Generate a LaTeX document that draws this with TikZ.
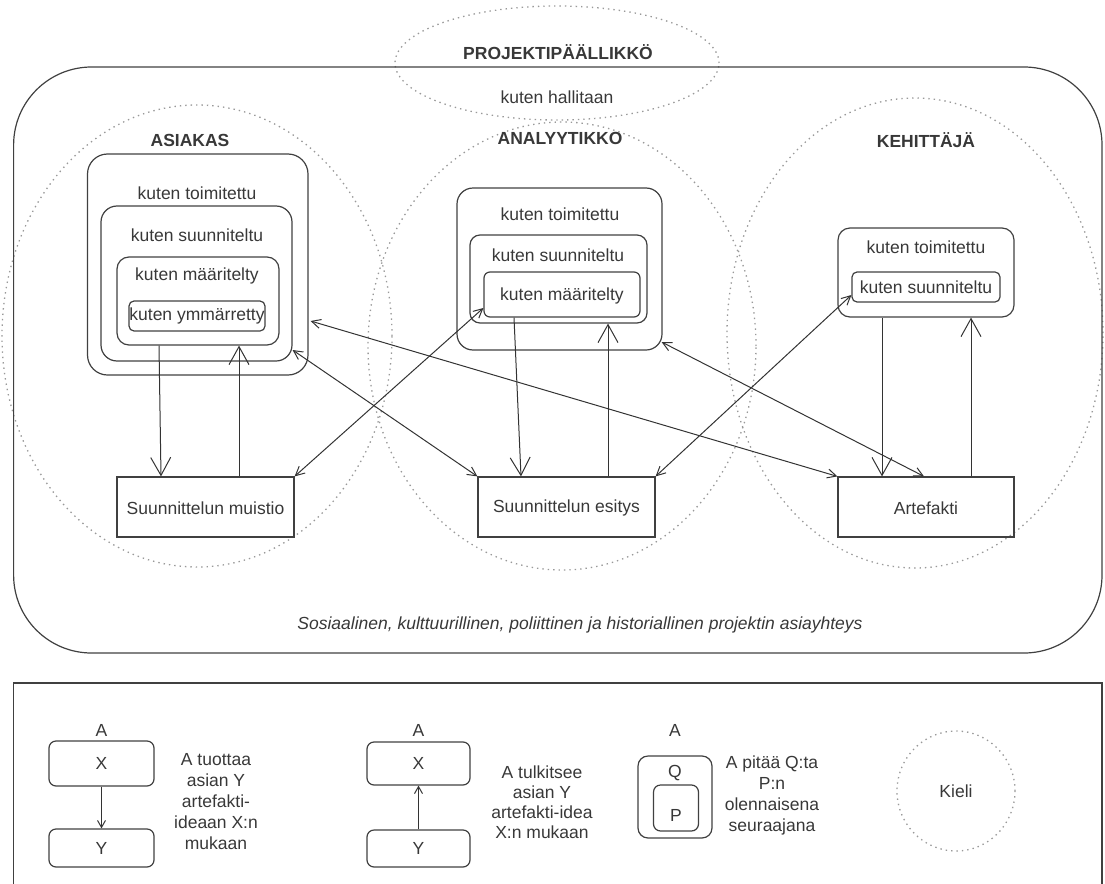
\documentclass[tikz,border=0pt]{standalone}
\usepackage{fontspec}
\setmainfont{Liberation Sans}
\usetikzlibrary{arrows.meta,shapes.geometric}
\begin{document}
\begin{tikzpicture}[x=1pt,y=-1pt,
  txt/.style={font=\fontsize{17.5}{21}\selectfont, text=black!78, inner sep=0pt},
  bold/.style={txt, font=\fontsize{17.5}{21}\selectfont\bfseries},
  box/.style={draw=black!75, line width=1.2pt, inner sep=0pt},
  sbox/.style={box, rectangle},
  lang/.style={ellipse, draw=black!40, line width=1.3pt, dash pattern=on 1.4pt off 4pt, inner sep=0pt},
  conn/.style={draw=black!80, line width=1pt},
  big/.style={conn, -{Straight Barb[length=18pt,width=20pt,line width=1pt]}},
  dbl/.style={conn, {Straight Barb[length=9pt,width=9pt,line width=1pt]}-{Straight Barb[length=9pt,width=9pt,line width=1pt]}},
  small/.style={conn, -{Straight Barb[length=7pt,width=8pt,line width=1pt]}}
]
\useasboundingbox (0,0) rectangle (1105,883);
\clip (0,0) rectangle (1105,883);

% language circles
\node[lang, minimum width=324pt, minimum height=114pt] (pmc) at (557,63) {};
\node[lang, minimum width=390pt, minimum height=462pt] (asc) at (197,336) {};
\node[lang, minimum width=388pt, minimum height=448pt] (anc) at (562,346) {};
\node[lang, minimum width=376pt, minimum height=470pt] (kec) at (915,333) {};

% outer context frame
\draw[box, rounded corners=78pt] (13.6,67) rectangle (1102,653);

% role titles
\node[bold] (pm) at (558,52) {PROJEKTIPÄÄLLIKKÖ};
\node[txt] (pmt) at (557,97) {kuten hallitaan};
\node[bold] (as) at (190,140) {ASIAKAS};
\node[bold] (an) at (560,138) {ANALYYTIKKO};
\node[bold] (ke) at (926,140) {KEHITTÄJÄ};

% ASIAKAS boxes
\node[box, rounded corners=20pt, minimum width=220.5pt, minimum height=221pt] (a1) at (197.75,264.5) {};
\node[box, rounded corners=16pt, minimum width=191pt, minimum height=155pt] (a2) at (196.5,283.5) {};
\node[box, rounded corners=12pt, minimum width=162pt, minimum height=88pt] (a3) at (198,301) {};
\node[box, rounded corners=5pt, minimum width=136pt, minimum height=30pt] (a4) at (197,316) {};
\node[txt] (a1t) at (197,193) {kuten toimitettu};
\node[txt] (a2t) at (197,235) {kuten suunniteltu};
\node[txt] (a3t) at (197,276) {kuten määritelty};
\node[txt] (a4t) at (197,316) {kuten ymmärretty};

% ANALYYTIKKO boxes
\node[box, rounded corners=16pt, minimum width=205pt, minimum height=162pt] (b1) at (559.5,269) {};
\node[box, rounded corners=10pt, minimum width=177pt, minimum height=88pt] (b2) at (558.5,279) {};
\node[box, rounded corners=6pt, minimum width=156pt, minimum height=45pt] (b3) at (562,294.5) {};
\node[txt] (b1t) at (560,214) {kuten toimitettu};
\node[txt] (b2t) at (558,255) {kuten suunniteltu};
\node[txt] (b3t) at (562,296) {kuten määritelty};

% KEHITTAJA boxes
\node[box, rounded corners=12pt, minimum width=176pt, minimum height=89pt] (c1) at (926,272.5) {};
\node[box, rounded corners=5pt, minimum width=148pt, minimum height=30pt] (c2) at (926,287) {};
\node[txt] (c1t) at (926,247) {kuten toimitettu};
\node[txt] (c2t) at (926,287) {kuten suunniteltu};

% artefact boxes
\node[sbox, minimum width=177pt, minimum height=60pt] (m) at (205.5,507) {};
\node[sbox, minimum width=177pt, minimum height=60pt] (e) at (566.5,507) {};
\node[sbox, minimum width=176pt, minimum height=60pt] (f) at (926,507) {};
\node[txt] (mt) at (205.5,508) {Suunnittelun muistio};
\node[txt] (et) at (566.5,508) {Suunnittelun esitys};
\node[txt] (ft) at (926,508) {Artefakti};

% context text
\node[txt, font=\fontsize{17.5}{21}\selectfont\itshape] (ctx) at (580,625) {Sosiaalinen, kulttuurillinen, poliittinen ja historiallinen projektin asiayhteys};

% vertical produce / interpret arrows
\draw[big] ([xshift=-39pt]a3.south) -- ([xshift=-44.5pt]m.north);
\draw[big] ([xshift=33.5pt]m.north) -- ([xshift=41pt]a3.south);
\draw[big] ([xshift=-48pt]b3.south) -- ([xshift=-45.5pt]e.north);
\draw[big] ([xshift=41.5pt]e.north) -- ([xshift=49.5pt]b2.south);
\draw[big] ([xshift=-44pt]c1.south) -- ([xshift=-44pt]f.north);
\draw[big] ([xshift=45pt]f.north) -- ([xshift=45pt]c1.south);

% diagonal double arrows
\draw[dbl] ([yshift=-56.5pt,xshift=2pt]a1.east) -- (f.north west);
\draw[dbl] ([yshift=-66.5pt]a2.east) -- (e.north west);
\draw[dbl] ([yshift=-13.5pt]b3.west) -- (m.north east);
\draw[dbl] ([yshift=-8pt]c2.west) -- (e.north east);
\draw[dbl] ([yshift=-73pt,xshift=-1pt]b1.east) -- ([xshift=-2pt]f.north);

% legend
\draw[box] (13.6,683) rectangle (1102,900);
\node[box, rounded corners=7pt, minimum width=105pt, minimum height=45pt] (lx1) at (101.5,763.5) {};
\node[box, rounded corners=7pt, minimum width=105pt, minimum height=38pt] (ly1) at (101.5,848) {};
\node[txt] (la1) at (101.5,730) {A};
\node[txt] at (lx1) {X};
\node[txt] at (ly1) {Y};
\draw[small] (lx1.south) -- (ly1.north);
\node[txt, align=center, font=\fontsize{17.5}{21}\selectfont] (ld1) at (216,802) {A tuottaa\\asian Y\\artefakti-\\ideaan X:n\\mukaan};

\node[box, rounded corners=7pt, minimum width=103pt, minimum height=43pt] (lx2) at (418.5,763.5) {};
\node[box, rounded corners=7pt, minimum width=103pt, minimum height=37pt] (ly2) at (418.5,848.5) {};
\node[txt] (la2) at (418.5,730) {A};
\node[txt] at (lx2) {X};
\node[txt] at (ly2) {Y};
\draw[small] (ly2.north) -- (lx2.south);
\node[txt, align=center, font=\fontsize{17.5}{20}\selectfont] (ld2) at (542,802) {A tulkitsee\\asian Y\\artefakti-idea\\X:n mukaan};

\node[box, rounded corners=10pt, minimum width=74pt, minimum height=82pt] (lq) at (675,797) {};
\node[box, rounded corners=7pt, minimum width=45pt, minimum height=46pt] (lp) at (676,808) {};
\node[txt] (la3) at (675,730) {A};
\node[txt] (lqt) at (675,773) {Q};
\node[txt] (lpt) at (676,815) {P};
\node[txt, align=center] (ld3) at (772,795) {A pitää Q:ta\\P:n\\olennaisena\\seuraajana};

\node[lang, minimum width=118pt, minimum height=120pt] (kieli) at (956,791) {};
\node[txt] (kielit) at (956,791) {Kieli};
\end{tikzpicture}
\end{document}
